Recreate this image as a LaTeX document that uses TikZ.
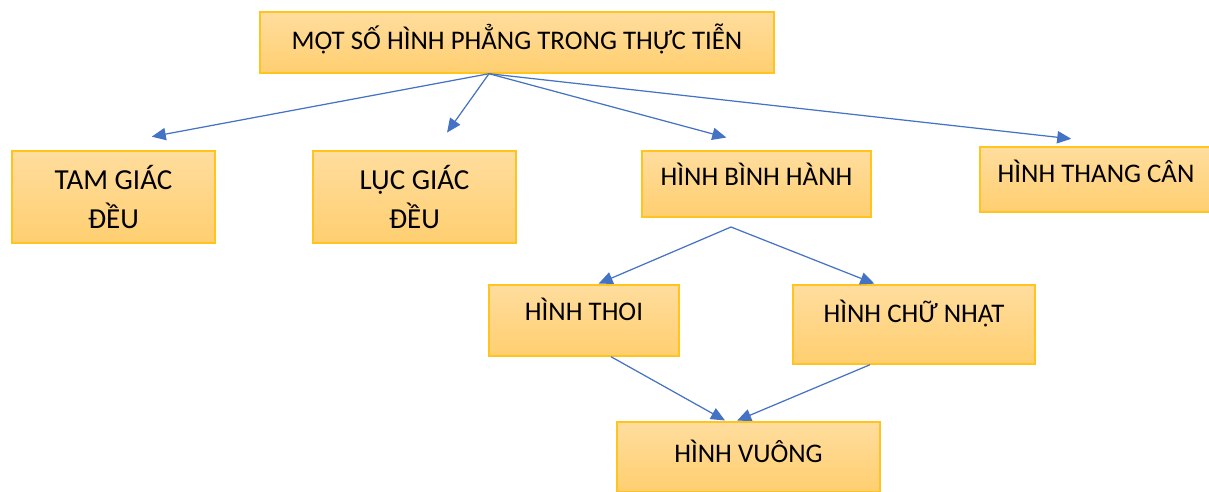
\documentclass[tikz,border=0pt]{standalone}
\usepackage{fontspec}
\setmainfont{Carlito}
\usetikzlibrary{arrows.meta}
\newlength\unitpx
\setlength\unitpx{0.02cm}
\definecolor{boxtop}{RGB}{255,221,158}
\definecolor{boxbottom}{RGB}{255,207,112}
\definecolor{boxline}{RGB}{255,196,30}
\definecolor{arrowblue}{RGB}{68,114,196}

\begin{document}
\begin{tikzpicture}[x=\unitpx,y=-\unitpx,->,>={Triangle[length=8pt,width=7pt]},shorten >=1pt,
		arrowblue,line width=0.7pt]
		\tikzstyle{box}=[rectangle,draw=boxline,line width=0.8pt,top color=boxtop,bottom color=boxbottom,
		text=black,inner sep=0pt,align=center,font=\fontsize{15.3}{22}\selectfont]
		\tikzstyle{oneline}=[text height=17\unitpx]
		\tikzstyle{twoline}=[font=\fontsize{16.5}{22.2}\selectfont]
		
		\useasboundingbox (0,0) rectangle (1209,491);
		
		\node[box,oneline] (title) [minimum width=514\unitpx,minimum height=61\unitpx,text depth=4\unitpx] at (517,42.5) {MỘT SỐ HÌNH PHẲNG TRONG THỰC TIỄN};
		
		\node[box,twoline] (tam) [minimum width=203\unitpx,minimum height=92\unitpx] at (113.5,197) {TAM GIÁC\\ĐỀU};
		\node[box,twoline] (luc) [minimum width=203\unitpx,minimum height=92\unitpx] at (414.5,197) {LỤC GIÁC\\ĐỀU};
		\node[box,oneline] (binh) [minimum width=229\unitpx,minimum height=66\unitpx,text depth=13.6\unitpx] at (756.5,184) {HÌNH BÌNH HÀNH};
		\node[box,oneline] (thang) [minimum width=232\unitpx,minimum height=65\unitpx,text depth=10.6\unitpx] at (1096,179.5) {HÌNH THANG CÂN};
		
		\node[box,oneline] (thoi) [minimum width=190\unitpx,minimum height=71\unitpx,text depth=17.6\unitpx] at (584,320.5) {HÌNH THOI};
		\node[box,oneline] (chunhat) [minimum width=242\unitpx,minimum height=79\unitpx,text depth=20.6\unitpx] at (914,324.5) {HÌNH CHỮ NHẬT};
		
		\node[box,oneline] (vuong) [minimum width=263\unitpx,minimum height=70\unitpx,text depth=6.6\unitpx] at (748.5,457) {HÌNH VUÔNG};
		
		\coordinate (tophub) at ([xshift=-28\unitpx]title.south);
		\coordinate (tamtip) at (150,137);
		\coordinate (luctip) at (446,134);
		\coordinate (binhtip) at (728,138);
		\coordinate (thangtip) at (1073,139);
		\coordinate (binhhub) at (731,227);
		
		\path (tophub) edge (tamtip)
		edge (luctip)
		edge (binhtip)
		edge (thangtip)
		(binhhub) edge ([xshift=13\unitpx]thoi.north)
		edge ([xshift=-38\unitpx]chunhat.north)
		([xshift=27\unitpx]thoi.south) edge ([xshift=-22\unitpx]vuong.north)
		([xshift=-44\unitpx]chunhat.south) edge ([xshift=-13\unitpx]vuong.north);
\end{tikzpicture}
\end{document}
